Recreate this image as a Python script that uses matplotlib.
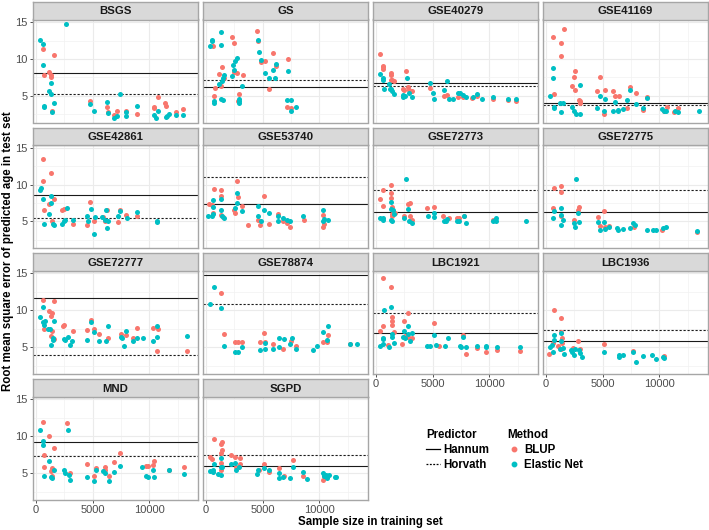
import numpy as np
import matplotlib
matplotlib.use('Agg')
import matplotlib.pyplot as plt
from matplotlib.lines import Line2D

plt.rcParams['font.family'] = ['Liberation Sans', 'DejaVu Sans']

# (training sample size, RMSE) pairs
bsgs_blup = [(584, 11.4), (1577, 10.5), (700, 7.9), (1140, 8.3), (1314, 7.8), (1314, 7.6), (1460, 3.0), (4790, 4.3),
             (6250, 3.5), (6400, 2.8), (6860, 2.4), (7150, 3.0), (7940, 3.0), (8960, 2.6), (10420, 3.5), (10420, 3.3),
             (10800, 4.8), (11390, 4.0), (11450, 3.7), (12380, 2.8), (13000, 3.2)]
bsgs_en = [(350, 12.6), (584, 12.0), (584, 9.2), (2690, 14.8), (730, 3.7), (730, 3.5), (1314, 6.8), (1170, 5.7),
           (1314, 5.3), (1577, 4.0), (1460, 2.8), (4790, 3.9), (5110, 2.9), (6250, 4.2), (6400, 2.7), (6860, 2.0),
           (7150, 2.3), (7420, 5.3), (7940, 2.8), (7940, 2.3), (8960, 3.7), (10420, 2.4), (10560, 2.0), (10800, 2.9),
           (11450, 2.1), (11600, 2.3), (11760, 2.5), (12380, 2.4), (13000, 2.4)]

gs_blup = [(2300, 13.0), (2510, 12.2), (610, 11.7), (4500, 13.8), (4610, 12.5), (1430, 8.9), (1140, 8.0), (1550, 7.4),
           (2450, 8.2), (2740, 8.1), (3240, 7.9), (4850, 9.6), (5230, 9.7), (5960, 10.8), (6220, 9.0), (7240, 10.0),
           (760, 6.1), (1340, 6.3), (670, 5.0), (2950, 5.3), (2860, 4.3), (5580, 6.0), (7120, 3.55), (7530, 3.3)]
gs_en = [(1285, 13.7), (555, 12.6), (555, 12.4), (380, 11.7), (1340, 11.95), (2715, 10.2), (2570, 9.7), (2420, 9.2),
         (2510, 8.5), (2300, 7.7), (1580, 7.9), (1500, 7.4), (1430, 7.0), (1140, 6.6), (3180, 6.3), (1340, 4.6),
         (670, 4.3), (670, 4.0), (1490, 4.4), (2950, 4.6), (2950, 4.3), (2890, 4.0), (4550, 12.55), (4640, 10.9),
         (4850, 9.8), (5230, 8.1), (5580, 7.4), (5930, 8.5), (6100, 7.4), (6220, 9.3), (7240, 8.4), (7120, 4.4),
         (7470, 4.5), (7530, 2.9), (7910, 3.45)]

gse40279_blup = [(350, 10.7), (580, 9.1), (610, 8.9), (610, 8.6), (1285, 8.1), (1285, 7.9), (2690, 8.4), (1285, 7.1),
                 (1430, 7.1), (1580, 7.0), (2400, 6.0), (2450, 5.8), (2830, 6.2), (2920, 5.8), (3180, 5.6),
                 (4730, 6.1), (6040, 5.0), (6280, 5.1), (7200, 4.9), (7700, 4.9), (8500, 4.7), (8960, 5.0),
                 (10340, 4.6), (11680, 4.5), (12320, 4.3)]
gse40279_en = [(350, 8.0), (580, 7.4), (640, 7.2), (730, 5.9), (1170, 6.6), (1230, 6.0), (1370, 5.9), (1460, 5.6),
               (1610, 5.3), (2400, 5.1), (2400, 4.8), (2540, 5.0), (2740, 7.4), (2890, 5.4), (3180, 4.9), (4800, 6.8),
               (5030, 5.4), (5100, 4.6), (6000, 5.8), (6280, 7.0), (6420, 4.6), (6770, 4.6), (7200, 5.45),
               (7450, 5.45), (7650, 5.1), (7940, 4.8), (8590, 4.8), (8960, 5.2), (9400, 4.6), (10340, 4.9),
               (11680, 4.6), (12320, 4.6)]

gse41169_blup = [(584, 13.0), (1285, 12.1), (1340, 10.4), (1580, 14.1), (700, 5.3), (2570, 8.4), (2450, 7.5),
                 (2340, 6.4), (2540, 5.8), (2900, 4.5), (2980, 4.3), (2980, 4.1), (4790, 7.6), (4500, 5.7),
                 (5230, 5.8), (5110, 2.6), (5960, 5.6), (6100, 5.0), (6420, 5.0), (7120, 3.3), (7420, 6.2),
                 (7940, 5.4), (8530, 3.1), (8900, 4.8), (10700, 3.5), (10420, 2.9), (11300, 2.8), (11650, 3.3)]
gse41169_en = [(584, 8.8), (640, 7.4), (350, 5.0), (700, 3.5), (700, 3.3), (1230, 4.0), (1520, 4.0), (1285, 2.8),
               (2340, 3.5), (2450, 2.9), (2690, 2.6), (2980, 2.6), (2980, 6.5), (4500, 3.4), (4790, 5.0),
               (5170, 4.6), (5110, 2.9), (5900, 3.0), (6130, 4.2), (6340, 3.1), (6400, 2.9), (6830, 3.2),
               (7120, 4.5), (7420, 5.8), (7940, 3.9), (8530, 3.4), (8960, 4.7), (10280, 3.2), (10420, 3.0),
               (10630, 3.0), (11360, 2.9), (11680, 2.85), (13500, 2.95)]

gse42861_blup = [(610, 13.4), (610, 10.45), (1340, 11.5), (1140, 7.3), (700, 6.6), (1550, 8.05), (1430, 5.1),
                 (2300, 6.5), (2510, 6.7), (3240, 4.6), (4790, 7.6), (4500, 4.45), (5100, 5.1), (5930, 5.6),
                 (6100, 5.0), (6250, 6.5), (7240, 4.9), (7420, 6.5), (7970, 5.9), (8960, 5.8)]
gse42861_en = [(380, 9.2), (470, 9.55), (610, 8.0), (1340, 7.5), (1340, 8.4), (1140, 6.05), (700, 4.7), (1490, 4.7),
               (1580, 4.55), (2300, 4.7), (2510, 5.0), (2570, 5.2), (2710, 6.8), (3240, 5.2), (4500, 5.7),
               (4610, 5.1), (4850, 6.7), (5230, 5.6), (5080, 3.3), (5870, 5.6), (6050, 5.15), (6220, 6.5),
               (6250, 4.1), (6340, 5.1), (7210, 5.8), (7390, 6.35), (8000, 5.45), (8960, 6.3), (10700, 5.0),
               (10700, 4.9)]

gse53740_blup = [(290, 7.3), (500, 7.2), (700, 9.45), (640, 6.2), (1285, 9.3), (1370, 8.4), (1370, 5.9), (1500, 5.6),
                 (2480, 6.6), (2540, 6.2), (2740, 10.45), (2830, 8.3), (3210, 7.1), (3700, 4.5), (4580, 5.2),
                 (4730, 4.5), (5080, 8.5), (5550, 4.7), (6400, 6.0), (6770, 5.0), (7120, 4.8), (7420, 4.3),
                 (8610, 5.2), (10340, 4.3), (10420, 4.6), (10340, 5.9)]
gse53740_en = [(200, 5.7), (500, 5.7), (640, 6.0), (640, 7.9), (640, 7.0), (1285, 8.1), (1370, 6.6), (1460, 5.7),
               (1580, 5.45), (2540, 6.8), (2740, 8.8), (2740, 7.5), (3210, 6.4), (4580, 7.1), (4580, 5.7),
               (4880, 5.1), (5110, 6.5), (5550, 6.1), (6400, 5.7), (6400, 5.0), (6830, 5.45), (7120, 5.2),
               (7420, 5.0), (8590, 5.7), (10340, 6.5), (10340, 5.0), (10420, 5.3), (10750, 5.2)]

gse72773_blup = [(350, 8.1), (640, 9.2), (640, 7.1), (1285, 9.9), (1285, 8.8), (1350, 8.2), (1400, 7.0), (1460, 6.0),
                 (1460, 5.7), (1660, 6.2), (2450, 5.8), (2830, 7.3), (2990, 7.5), (2990, 5.7), (3180, 5.2),
                 (4530, 6.8), (5080, 7.0), (5900, 5.8), (6480, 5.4), (7120, 5.45), (7350, 5.4), (7800, 5.7),
                 (10340, 5.2)]
gse72773_en = [(2690, 10.8), (350, 5.5), (640, 5.5), (640, 5.2), (1285, 7.6), (1310, 6.7), (1520, 6.5), (1580, 6.0),
               (1285, 5.2), (1460, 5.1), (2450, 5.4), (2830, 6.7), (2920, 5.0), (3210, 4.85), (4580, 5.8),
               (5080, 6.1), (5080, 5.6), (6040, 5.1), (6190, 5.1), (6280, 5.3), (7120, 5.1), (7350, 5.0),
               (7800, 5.8), (7940, 4.8), (10340, 5.0), (10570, 5.1), (10630, 5.5), (13260, 5.0)]

gse72775_blup = [(700, 9.55), (1285, 9.8), (1285, 9.0), (584, 6.8), (1285, 5.7), (2830, 6.6), (2920, 6.9),
                 (2450, 5.2), (4580, 5.6), (4730, 4.4), (5080, 6.4), (5170, 4.3), (5520, 4.4), (7800, 4.2),
                 (10280, 3.9), (13350, 3.6)]
gse72775_en = [(2690, 10.8), (584, 5.45), (700, 6.4), (1285, 6.8), (1370, 5.9), (1520, 5.2), (1285, 4.5), (2450, 4.8),
               (2540, 4.2), (2830, 6.2), (2920, 4.9), (4580, 4.9), (4730, 3.9), (5080, 4.9), (5230, 4.0),
               (5520, 4.2), (6290, 4.1), (6340, 3.9), (6830, 4.0), (7420, 4.1), (7650, 4.8), (7880, 4.5),
               (8960, 3.8), (9460, 3.8), (9700, 3.9), (10370, 4.1), (10630, 4.3), (13350, 3.75)]

gse72777_blup = [(610, 11.4), (1550, 11.2), (1140, 9.95), (1430, 9.6), (1340, 9.2), (700, 7.4), (1430, 7.25),
                 (1340, 6.5), (1550, 6.1), (2510, 7.95), (2420, 7.9), (3240, 7.2), (4500, 7.3), (4850, 8.65),
                 (5140, 7.4), (5580, 6.8), (6400, 6.2), (7470, 6.85), (7940, 6.7), (8530, 6.2), (8960, 7.6),
                 (10370, 7.6), (10800, 7.4), (10700, 4.55), (13290, 4.55)]
gse72777_en = [(380, 9.05), (610, 10.5), (610, 8.4), (760, 8.6), (700, 7.95), (1050, 7.5), (1260, 7.4), (1490, 6.3),
               (1550, 8.6), (1340, 5.3), (1490, 6.0), (2450, 6.1), (2570, 6.0), (2860, 6.4), (3000, 5.35),
               (3180, 5.9), (4500, 5.95), (4850, 8.4), (5080, 7.0), (5580, 5.8), (6170, 5.8), (6400, 7.85),
               (7480, 6.35), (7560, 6.2), (7770, 5.2), (7970, 7.2), (8530, 5.8), (8960, 6.3), (9460, 6.3),
               (10370, 5.9), (10700, 6.4), (10700, 7.9), (13350, 6.55)]

gse78874_blup = [(1370, 12.4), (1580, 6.75), (2540, 5.7), (2830, 5.7), (3210, 5.7), (5110, 6.9), (5170, 5.7),
                 (4790, 5.7), (5960, 5.4), (6770, 4.8), (7500, 5.8), (7940, 5.1), (10340, 5.7), (10720, 5.7),
                 (10800, 6.6), (12670, 5.5)]
gse78874_en = [(350, 10.9), (700, 13.2), (1370, 10.3), (1580, 5.2), (2540, 4.3), (2830, 4.35), (3210, 5.0),
               (4790, 4.6), (5170, 5.6), (5230, 4.8), (5960, 4.7), (6420, 5.0), (6420, 6.2), (6860, 6.1),
               (7450, 5.5), (7560, 6.2), (7940, 4.7), (9460, 4.6), (9780, 5.1), (10370, 7.0), (10720, 6.0),
               (10800, 7.9), (12670, 5.45), (13350, 5.4)]

lbc1921_blup = [(640, 14.4), (1285, 13.1), (640, 7.9), (350, 7.25), (1460, 9.05), (1460, 8.6), (1460, 8.0),
                (1580, 7.0), (1080, 5.3), (2450, 8.5), (2540, 6.5), (2830, 9.7), (2690, 6.4), (2830, 6.4),
                (3180, 6.2), (2300, 5.5), (5080, 8.3), (5550, 5.1), (7700, 6.7), (7940, 4.1), (8960, 4.9),
                (9750, 4.4), (10660, 4.6), (12670, 4.5)]
lbc1921_en = [(700, 10.0), (1285, 10.4), (350, 5.1), (640, 6.3), (640, 6.1), (580, 5.5), (1170, 5.0), (1460, 6.8),
              (1460, 6.35), (1580, 5.6), (2450, 7.25), (2400, 6.4), (2540, 6.2), (2830, 7.9), (2830, 6.8),
              (2990, 5.8), (3180, 6.9), (4500, 5.2), (4730, 5.2), (5080, 6.6), (5260, 5.3), (6130, 5.1),
              (6390, 6.3), (7420, 5.2), (7500, 5.0), (7700, 6.35), (7940, 5.0), (8960, 5.1), (9750, 5.2),
              (9750, 5.0), (10660, 5.0), (12670, 5.0)]

lbc1936_blup = [(700, 10.0), (1285, 8.9), (290, 4.1), (640, 5.6), (1080, 5.2), (1370, 7.0), (1430, 6.3), (1430, 5.6),
                (1285, 4.7), (2390, 4.9), (2860, 5.8), (2980, 4.7), (5080, 5.5), (7700, 4.5), (10420, 3.8)]
lbc1936_en = [(700, 6.7), (350, 5.0), (500, 5.3), (580, 4.3), (700, 6.0), (1230, 4.7), (1285, 5.8), (1285, 6.9),
              (1520, 4.9), (1610, 4.1), (2250, 4.6), (2340, 4.4), (2450, 3.95), (2600, 4.7), (2920, 4.6),
              (3040, 4.2), (3180, 3.7), (5080, 4.4), (6420, 4.0), (6420, 3.65), (6830, 4.0), (7700, 4.3),
              (7940, 3.05), (8590, 3.85), (9400, 4.0), (9750, 3.4), (10340, 3.7), (10420, 3.6)]

mnd_blup = [(584, 12.0), (1170, 10.0), (700, 7.5), (1577, 8.4), (700, 5.8), (1430, 5.7), (1314, 5.3), (1430, 4.6),
            (2770, 11.8), (3040, 5.0), (4500, 6.3), (5110, 4.6), (5260, 5.7), (6130, 5.5), (6130, 5.9), (6420, 4.6),
            (6860, 6.5), (7420, 7.7), (9700, 6.0), (9850, 6.0), (10340, 6.05), (10420, 6.7), (11740, 5.5),
            (13050, 5.8)]
mnd_en = [(350, 10.9), (584, 9.4), (584, 8.8), (700, 4.6), (1170, 6.7), (1314, 4.45), (1430, 4.3), (1577, 5.45),
          (2480, 5.45), (2540, 5.0), (2830, 10.9), (2920, 4.7), (3040, 4.1), (4500, 4.55), (5110, 3.96),
          (5260, 5.45), (5960, 5.3), (6130, 5.0), (6420, 3.9), (6860, 5.2), (7420, 6.0), (9400, 5.9), (9700, 4.6),
          (9850, 4.55), (10340, 5.4), (10420, 4.5), (11740, 5.45), (13050, 4.86)]

sgpd_blup = [(350, 7.2), (500, 6.9), (700, 9.65), (1285, 9.0), (1430, 9.2), (1430, 8.2), (1285, 7.8), (1370, 6.4),
             (1285, 5.45), (2250, 7.5), (2540, 7.2), (3040, 7.0), (2690, 5.9), (3040, 6.2), (4670, 5.45),
             (5110, 6.2), (5550, 5.1), (6420, 5.7), (6860, 4.6), (7650, 6.8), (8590, 4.6), (10340, 4.1),
             (10420, 4.6)]
sgpd_en = [(350, 5.3), (640, 5.1), (640, 5.5), (700, 6.3), (1080, 4.9), (1285, 7.1), (1285, 5.8), (1370, 4.7),
           (1460, 5.9), (2250, 6.2), (2540, 6.4), (2690, 5.45), (2920, 5.8), (4500, 4.9), (4580, 5.5), (5110, 5.7),
           (5550, 5.4), (6420, 5.0), (6420, 4.3), (6830, 4.55), (7420, 4.3), (7650, 5.8), (8590, 5.1), (8960, 4.2),
           (10340, 5.0), (10420, 4.6), (10570, 4.8), (10720, 4.4), (10860, 4.7), (11400, 4.55), (11520, 4.5)]

datasets = ['BSGS', 'GS', 'GSE40279', 'GSE41169', 'GSE42861', 'GSE53740', 'GSE72773', 'GSE72775',
            'GSE72777', 'GSE78874', 'LBC1921', 'LBC1936', 'MND', 'SGPD']
blup_series = [bsgs_blup, gs_blup, gse40279_blup, gse41169_blup, gse42861_blup, gse53740_blup, gse72773_blup,
               gse72775_blup, gse72777_blup, gse78874_blup, lbc1921_blup, lbc1936_blup, mnd_blup, sgpd_blup]
en_series = [bsgs_en, gs_en, gse40279_en, gse41169_en, gse42861_en, gse53740_en, gse72773_en,
             gse72775_en, gse72777_en, gse78874_en, lbc1921_en, lbc1936_en, mnd_en, sgpd_en]
hannum_rmse = [8.14, 6.18, 6.73, 4.05, 8.55, 7.36, 6.27, 6.23, 11.6, 14.8, 6.9, 5.86, 9.23, 6.0]
horvath_rmse = [5.23, 7.1, 6.36, 3.73, 5.41, 11.0, 9.3, 9.2, 3.96, 10.86, 9.7, 7.34, 7.34, 7.5]

RED = '#F8766D'
TEAL = '#00BFC4'
BORDER = '#A6A6A6'
W, H = 709, 530

fig = plt.figure(figsize=(W / 100, H / 100), dpi=100)

strip_tops = [2, 127.5, 253.3, 379.3]
strip_h = 17.5
panel_h = 103
panel_w = 165

for i, name in enumerate(datasets):
    row, col = divmod(i, 4)
    left = 33 + col * 170
    ptop = strip_tops[row] + strip_h
    ax = fig.add_axes([left / W, 1 - (ptop + panel_h) / H, panel_w / W, panel_h / H])
    st = fig.add_axes([left / W, 1 - ptop / H, panel_w / W, strip_h / H])

    st.set_facecolor('#D9D9D9')
    st.set_xticks([])
    st.set_yticks([])
    for s in st.spines.values():
        s.set_color(BORDER)
        s.set_linewidth(1.0)
    st.text(0.5, 0.47, name, ha='center', va='center', fontsize=8.2, fontweight='bold',
            color='#1A1A1A', transform=st.transAxes)

    ax.set_xlim(-260, 14300)
    ax.set_ylim(1.4, 15.35)
    ax.set_xticks([0, 5000, 10000])
    ax.set_xticks([2500, 7500, 12500], minor=True)
    ax.set_yticks([5, 10, 15])
    ax.set_yticks([2.5, 7.5, 12.5], minor=True)
    ax.grid(True, which='major', color='#EBEBEB', linewidth=0.8)
    ax.grid(True, which='minor', color='#F2F2F2', linewidth=0.5)
    ax.set_axisbelow(True)
    for s in ax.spines.values():
        s.set_color(BORDER)
        s.set_linewidth(1.0)
    ax.tick_params(which='major', length=2.5, width=0.6, color='#333333', labelsize=8,
                   labelcolor='#4D4D4D', pad=1.2)
    ax.tick_params(which='minor', length=0)

    show_x = (row == 3) or (row == 2 and col >= 2)
    if not show_x:
        ax.tick_params(axis='x', labelbottom=False, length=0)
    if col != 0:
        ax.tick_params(axis='y', labelleft=False, length=0)

    ax.axhline(hannum_rmse[i], color='#1A1A1A', linewidth=0.8, zorder=1)
    ax.axhline(horvath_rmse[i], color='#1A1A1A', linewidth=0.8, linestyle=(0, (2, 1.6)), zorder=1)

    b = np.array(blup_series[i])
    e = np.array(en_series[i])
    ax.scatter(b[:, 0], b[:, 1], s=13, color=RED, linewidths=0, zorder=2)
    ax.scatter(e[:, 0], e[:, 1], s=13, color=TEAL, linewidths=0, zorder=2)

fig.text(370 / W, 1 - 522 / H, 'Sample size in training set', ha='center', va='center',
         fontsize=8.3, fontweight='bold')
fig.text(8 / W, 1 - 251 / H, 'Root mean square error of predicted age in test set', ha='center',
         va='center', rotation=90, fontsize=8.3, fontweight='bold')

pred_handles = [Line2D([], [], color='black', linewidth=0.9),
                Line2D([], [], color='black', linewidth=0.9, linestyle=(0, (1.5, 1.2)))]
leg1 = fig.legend(pred_handles, ['Hannum', 'Horvath'], title='Predictor', loc='upper left',
                  bbox_to_anchor=(426 / W, 1 - 429 / H), frameon=False,
                  prop={'size': 8.3, 'weight': 'bold'}, title_fontproperties={'size': 8.3, 'weight': 'bold'},
                  handlelength=1.2, handletextpad=0.3, labelspacing=0.25, borderpad=0.0, borderaxespad=0.0)
leg1._legend_box.align = 'left'

meth_handles = [Line2D([], [], color=RED, marker='o', linestyle='', markersize=3.2),
                Line2D([], [], color=TEAL, marker='o', linestyle='', markersize=3.2)]
leg2 = fig.legend(meth_handles, ['BLUP', 'Elastic Net'], title='Method', loc='upper left',
                  bbox_to_anchor=(507 / W, 1 - 429 / H), frameon=False,
                  prop={'size': 8.3, 'weight': 'bold'}, title_fontproperties={'size': 8.3, 'weight': 'bold'},
                  handlelength=1.2, handletextpad=0.3, labelspacing=0.25, borderpad=0.0, borderaxespad=0.0)
leg2._legend_box.align = 'left'

fig.savefig('out.png', dpi=100, facecolor='white')
